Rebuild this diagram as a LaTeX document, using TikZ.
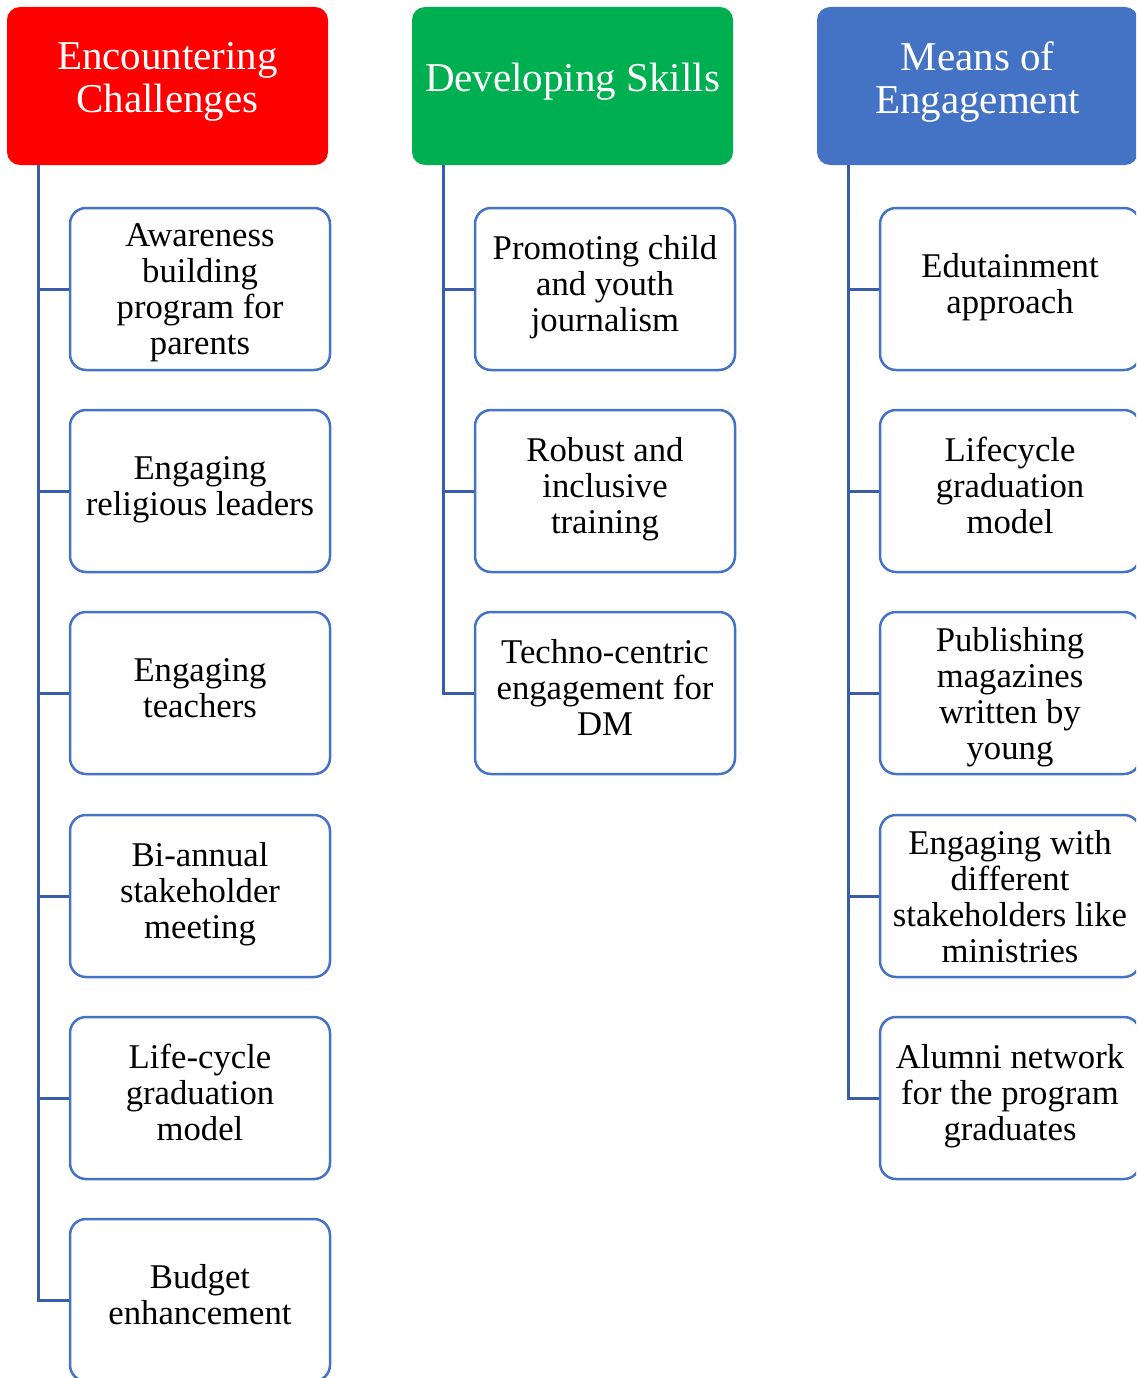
\documentclass[tikz,border=0pt]{standalone}
\usepackage{fontspec}
\setmainfont{Liberation Serif}
\definecolor{hred}{HTML}{FF0000}
\definecolor{hgreen}{HTML}{00B050}
\definecolor{hblue}{HTML}{4472C4}
\definecolor{cline}{HTML}{3A5DA8}
\begin{document}
\begin{tikzpicture}[x=1pt,y=-1pt,
  head/.style={rounded corners=13pt, minimum width=321pt, minimum height=158pt, inner sep=0pt},
  headtext/.style={text=white, align=center, font=\fontsize{41}{43}\selectfont, inner sep=0pt},
  child/.style={draw=hblue, line width=2.5pt, rounded corners=16pt, fill=white,
    minimum width=260pt, minimum height=162pt, inner sep=0pt},
  childtext/.style={align=center, inner sep=0pt, font=\fontsize{34.7}{36}\selectfont,
    execute at begin node=\strut, execute at end node=\strut},
  down/.style={yshift=-5.5pt},
  conn/.style={draw=cline, line width=3pt}]
\useasboundingbox (0,0) rectangle (1136,1378);
\clip (0,0) rectangle (1136,1378);
% headers
\node[head, fill=hred] (h1) at (167.5,86) {};
\node[head, fill=hgreen] (h2) at (572.5,86) {};
\node[head, fill=hblue] (h3) at (977.5,86) {};
\node[headtext, yshift=4.5pt] (h1t) at (h1) {Encountering\\Challenges};
\node[headtext, yshift=4.5pt] (h2t) at (h2) {Developing Skills};
\node[headtext, yshift=4.5pt] (h3t) at (h3) {Means of\\Engagement};
\coordinate (c1) at (38,0);
\coordinate (c2) at (443,0);
\coordinate (c3) at (848,0);
% column 1
\node[child] (a1) at (200,289) {};
\node[child] (a2) at (200,491) {};
\node[child] (a3) at (200,693) {};
\node[child] (a4) at (200,896) {};
\node[child] (a5) at (200,1098) {};
\node[child] (a6) at (200,1300) {};
\node[childtext, down] (a1t) at (a1) {Awareness\\building\\program for\\parents};
\node[childtext] (a2t) at (a2) {Engaging\\religious leaders};
\node[childtext] (a3t) at (a3) {Engaging\\teachers};
\node[childtext] (a4t) at (a4) {Bi-annual\\stakeholder\\meeting};
\node[childtext] (a5t) at (a5) {Life-cycle\\graduation\\model};
\node[childtext] (a6t) at (a6) {Budget\\enhancement};
% column 2
\node[child] (b1) at (605,289) {};
\node[child] (b2) at (605,491) {};
\node[child] (b3) at (605,693) {};
\node[childtext] (b1t) at (b1) {Promoting child\\and youth\\journalism};
\node[childtext] (b2t) at (b2) {Robust and\\inclusive\\training};
\node[childtext] (b3t) at (b3) {Techno-centric\\engagement for\\DM};
% column 3
\node[child] (d1) at (1010,289) {};
\node[child] (d2) at (1010,491) {};
\node[child] (d3) at (1010,693) {};
\node[child] (d4) at (1010,896) {};
\node[child] (d5) at (1010,1098) {};
\node[childtext] (d1t) at (d1) {Edutainment\\approach};
\node[childtext] (d2t) at (d2) {Lifecycle\\graduation\\model};
\node[childtext, down] (d3t) at (d3) {Publishing\\magazines\\written by\\young};
\node[childtext, down] (d4t) at (d4) {Engaging with\\different\\stakeholders like\\ministries};
\node[childtext] (d5t) at (d5) {Alumni network\\for the program\\graduates};
% connectors
\draw[conn] (h1.south -| c1) |- (a6.west);
\foreach \n in {a1,a2,a3,a4,a5} \draw[conn] (\n.west -| c1) -- (\n.west);
\draw[conn] (h2.south -| c2) |- (b3.west);
\foreach \n in {b1,b2} \draw[conn] (\n.west -| c2) -- (\n.west);
\draw[conn] (h3.south -| c3) |- (d5.west);
\foreach \n in {d1,d2,d3,d4} \draw[conn] (\n.west -| c3) -- (\n.west);
\end{tikzpicture}
\end{document}
